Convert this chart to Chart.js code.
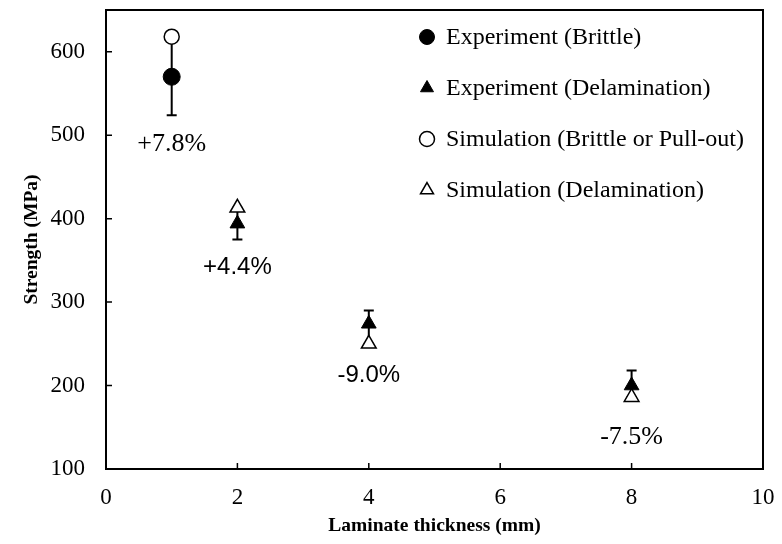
<!DOCTYPE html>
<html lang="en">
<head>
<meta charset="UTF-8">
<title>Strength vs laminate thickness</title>
<script src="https://cdn.jsdelivr.net/npm/chart.js"></script>
<style>
  html, body { margin: 0; padding: 0; background: #fff; }
  #wrap { width: 782px; height: 544px; }
</style>
</head>
<body>
<div id="wrap"><canvas id="strengthChart" width="782" height="544"></canvas></div>

<script>
  // values
  const thickness = [1, 2, 4, 8];
  const expStrength = [570, 394, 274, 200];
  const simStrength = [618, 413, 250, 186];
  const errLow = [46, 19, 24, 14];
  const errHigh = [48, 19, 16, 18];
  const diffLabels = ['+7.8%', '+4.4%', '-9.0%', '-7.5%'];
  const brittleIdx = [0];
  const delamIdx = [1, 2, 3];
  const xTicks = [0, 2, 4, 6, 8, 10];
  const yTicks = [100, 200, 300, 400, 500, 600];

  const SERIF = "'Liberation Serif', 'Times New Roman', serif";
  const SANS = "'Liberation Sans', Arial, sans-serif";
  Chart.defaults.font.family = SERIF;
  Chart.defaults.color = '#000';

  const pts = (idx, ys) => idx.map(i => ({ x: thickness[i], y: ys[i] }));

  // frame with inward ticks
  const framePlugin = {
    id: 'frame',
    afterDraw(chart) {
      const { ctx, chartArea: a, scales } = chart;
      ctx.save();
      ctx.strokeStyle = '#000';
      ctx.lineWidth = 2;
      ctx.strokeRect(a.left, a.top, a.right - a.left, a.bottom - a.top);
      ctx.lineWidth = 1.5;
      ctx.beginPath();
      xTicks.forEach(v => {
        const x = scales.x.getPixelForValue(v);
        ctx.moveTo(x, a.bottom);
        ctx.lineTo(x, a.bottom - 6);
      });
      yTicks.forEach(v => {
        const y = scales.y.getPixelForValue(v);
        ctx.moveTo(a.left, y);
        ctx.lineTo(a.left + 6, y);
      });
      ctx.stroke();
      ctx.restore();
    }
  };

  // error bars on the experiment points
  const errorBars = {
    id: 'errorBars',
    beforeDatasetsDraw(chart) {
      const { ctx, scales } = chart;
      ctx.save();
      ctx.strokeStyle = '#000';
      ctx.lineWidth = 2;
      thickness.forEach((t, i) => {
        const x = scales.x.getPixelForValue(t);
        const y1 = scales.y.getPixelForValue(expStrength[i] - errLow[i]);
        const y2 = scales.y.getPixelForValue(expStrength[i] + errHigh[i]);
        ctx.beginPath();
        ctx.moveTo(x, y1); ctx.lineTo(x, y2);
        ctx.moveTo(x - 5, y1); ctx.lineTo(x + 5, y1);
        ctx.moveTo(x - 5, y2); ctx.lineTo(x + 5, y2);
        ctx.stroke();
      });
      ctx.restore();
    }
  };

  // percentage difference text under each pair
  const diffText = {
    id: 'diffText',
    afterDatasetsDraw(chart, args, opts) {
      const { ctx, scales } = chart;
      ctx.save();
      ctx.fillStyle = '#000';
      ctx.textAlign = 'center';
      ctx.textBaseline = 'middle';
      diffLabels.forEach((txt, i) => {
        const x = scales.x.getPixelForValue(thickness[i]);
        const y = scales.y.getPixelForValue(expStrength[i]) + opts.offsets[i];
        ctx.font = opts.fonts[i];
        ctx.fillText(txt, x, y);
      });
      ctx.restore();
    }
  };

  // legend inside the plot, top right
  const innerLegend = {
    id: 'innerLegend',
    afterDraw(chart, args, opts) {
      const { ctx } = chart;
      ctx.save();
      ctx.font = '24px ' + SERIF;
      ctx.textBaseline = 'middle';
      chart.data.datasets.forEach((ds, i) => {
        const y = opts.top + i * opts.gap;
        ctx.fillStyle = ds.backgroundColor;
        ctx.strokeStyle = ds.borderColor;
        ctx.lineWidth = ds.borderWidth;
        Chart.helpers.drawPoint(ctx, {
          pointStyle: ds.pointStyle,
          radius: 7.5,
          rotation: 0,
          borderWidth: ds.borderWidth
        }, opts.left, y);
        ctx.fillStyle = '#000';
        ctx.fillText(ds.label, opts.left + 19, y + 1);
      });
      ctx.restore();
    }
  };

  new Chart(document.getElementById('strengthChart'), {
    type: 'scatter',
    data: {
      datasets: [
        {
          label: 'Experiment (Brittle)',
          data: pts(brittleIdx, expStrength),
          pointStyle: 'circle', pointRadius: 8.5,
          backgroundColor: '#000', borderColor: '#000', borderWidth: 1,
          order: 2
        },
        {
          label: 'Experiment (Delamination)',
          data: pts(delamIdx, expStrength),
          pointStyle: 'triangle', pointRadius: 8.5,
          backgroundColor: '#000', borderColor: '#000', borderWidth: 1,
          order: 2
        },
        {
          label: 'Simulation (Brittle or Pull-out)',
          data: pts(brittleIdx, simStrength),
          pointStyle: 'circle', pointRadius: 7.5,
          backgroundColor: '#fff', borderColor: '#000', borderWidth: 1.5,
          order: 1
        },
        {
          label: 'Simulation (Delamination)',
          data: pts(delamIdx, simStrength),
          pointStyle: 'triangle', pointRadius: 8.5,
          backgroundColor: '#fff', borderColor: '#000', borderWidth: 1.5,
          order: 1
        }
      ]
    },
    options: {
      responsive: false,
      animation: false,
      layout: { padding: { top: 6, right: 19, left: 0, bottom: 0 } },
      plugins: {
        legend: { display: false },
        tooltip: { enabled: false },
        diffText: {
          offsets: [67, 44, 52, 52],
          fonts: ['26px ' + SERIF, '24px ' + SANS, '24px ' + SANS, '26px ' + SERIF]
        },
        innerLegend: { left: 427, top: 37, gap: 51 }
      },
      scales: {
        x: {
          type: 'linear',
          position: 'bottom',
          min: 0, max: 10,
          grid: { display: false, drawTicks: false },
          border: { display: false },
          afterBuildTicks: s => { s.ticks = xTicks.map(v => ({ value: v })); },
          afterFit: s => { s.height = 75; s.paddingLeft = 0; s.paddingRight = 0; },
          ticks: { padding: 15, font: { size: 23 }, color: '#000' },
          title: {
            display: true, text: 'Laminate thickness (mm)', color: '#000',
            font: { size: 19.5, weight: 'bold' }, padding: { top: 0, bottom: 6 }
          }
        },
        y: {
          min: 100, max: 650,
          grid: { display: false, drawTicks: false },
          border: { display: false },
          afterBuildTicks: s => { s.ticks = yTicks.map(v => ({ value: v })); },
          afterFit: s => { s.width = 106; s.paddingTop = 0; s.paddingBottom = 0; },
          ticks: { padding: 21, font: { size: 23 }, color: '#000' },
          title: {
            display: true, text: 'Strength (MPa)', color: '#000',
            font: { size: 19.5, weight: 'bold' }, padding: { top: 20, bottom: 0 }
          }
        }
      }
    },
    plugins: [framePlugin, errorBars, diffText, innerLegend]
  });
</script>
</body>
</html>
